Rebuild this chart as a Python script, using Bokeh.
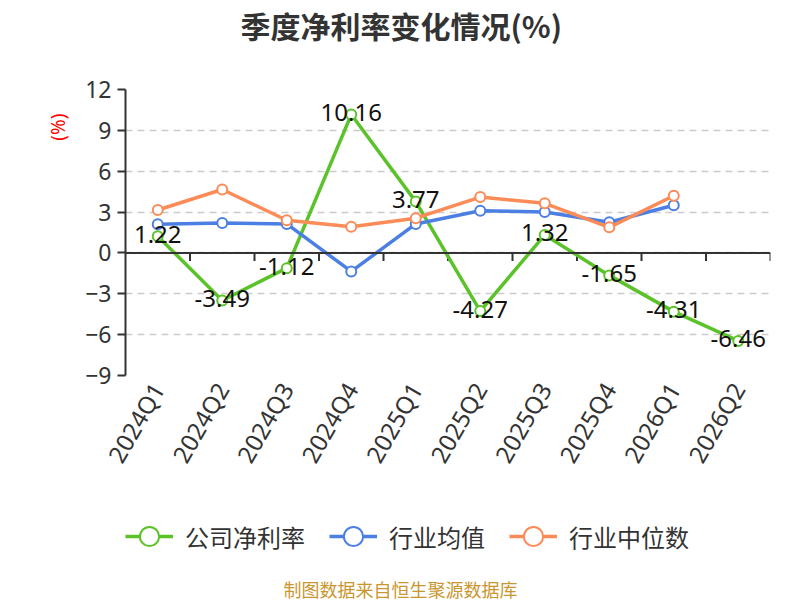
import math
from bokeh.plotting import figure
from bokeh.layouts import column
from bokeh.models import (FixedTicker, Span, Legend, LegendItem, ColumnDataSource, Title, Label)
from bokeh.core.properties import value
from bokeh.embed import file_html
from bokeh.resources import INLINE

# ---- data ----
categories = ["2024Q1", "2024Q2", "2024Q3", "2024Q4", "2025Q1",
              "2025Q2", "2025Q3", "2025Q4", "2026Q1", "2026Q2"]
company = [1.22, -3.49, -1.12, 10.16, 3.77, -4.27, 1.32, -1.65, -4.31, -6.46]
industry_avg = [2.10, 2.20, 2.13, -1.36, 2.13, 3.10, 3.00, 2.25, 3.50]
industry_median = [3.15, 4.66, 2.40, 1.93, 2.55, 4.10, 3.64, 1.88, 4.20]
y_ticks = [-9, -6, -3, 0, 3, 6, 9, 12]
series_names = ["公司净利率", "行业均值", "行业中位数"]
title_text = "季度净利率变化情况(%)"
unit_text = "(%)"
source_text = "制图数据来自恒生聚源数据库"

GREEN = "#5bc22a"
BLUE = "#4b7fe3"
ORANGE = "#fd8b57"
CJK = "Noto Sans CJK SC"
LATIN = "Noto Sans"

W = 800
H_MAIN, H_FOOT = 480, 120
ML, MR, MT, MB = 125, 30, 89, 105
frame_h = H_MAIN - MT - MB

xs = [i + 0.5 for i in range(len(categories))]
y_min, y_max = y_ticks[0], y_ticks[-1]

p = figure(width=W, height=H_MAIN, x_range=(0, len(categories)), y_range=(y_min, y_max),
           output_backend="svg", toolbar_location=None, title=None,
           min_border_left=ML, min_border_right=MR, min_border_top=MT, min_border_bottom=MB)
p.outline_line_color = None
p.background_fill_color = "white"

# grid
p.xgrid.visible = False
p.ygrid.ticker = FixedTicker(ticks=y_ticks)
p.ygrid.grid_line_color = "#cccccc"
p.ygrid.grid_line_width = 1.5
p.ygrid.grid_line_dash = "7 5"

# y axis
p.yaxis.ticker = FixedTicker(ticks=y_ticks)
p.yaxis.axis_line_color = "#333333"
p.yaxis.axis_line_width = 2
p.yaxis.major_tick_out = 8
p.yaxis.major_tick_in = 0
p.yaxis.major_tick_line_color = "#333333"
p.yaxis.major_tick_line_width = 2
p.yaxis.minor_tick_line_color = None
p.yaxis.major_label_text_font = LATIN
p.yaxis.major_label_text_font_size = "23px"
p.yaxis.major_label_text_color = "#333333"
p.yaxis.major_label_standoff = 6
p.yaxis.axis_label = " "
p.yaxis.axis_label_text_font_size = "4px"
p.yaxis.axis_label_standoff = 4

# x axis (labels only)
p.xaxis.ticker = FixedTicker(ticks=xs)
p.xaxis.major_label_overrides = {x: c for x, c in zip(xs, categories)}
p.xaxis.axis_line_color = None
p.xaxis.major_tick_line_color = None
p.xaxis.minor_tick_line_color = None
p.xaxis.major_tick_out = 0
p.xaxis.major_tick_in = 0
p.xaxis.major_label_orientation = math.pi / 3
p.xaxis.major_label_standoff = 9
p.xaxis.major_label_text_font = LATIN
p.xaxis.major_label_text_font_size = "24px"
p.xaxis.major_label_text_color = "#333333"

# zero line with category boundary ticks
p.add_layout(Span(location=0, dimension="width", line_color="#333333", line_width=2))
px_per_unit = frame_h / (y_max - y_min)
tick_len = 8 / px_per_unit
bounds = list(range(1, len(categories) + 1))
p.segment(x0=bounds, y0=[0] * len(bounds), x1=bounds, y1=[-tick_len] * len(bounds),
          line_color="#333333", line_width=2)


def add_series(fig, xv, vals, color):
    src = ColumnDataSource(dict(x=xv, y=vals))
    ln = fig.line("x", "y", source=src, line_color=color, line_width=3.5)
    sc = fig.scatter("x", "y", source=src, marker="circle", size=10, fill_color="white",
                     line_color=color, line_width=2)
    return [ln, sc]


all_series = [company, industry_avg, industry_median]
colors = [GREEN, BLUE, ORANGE]
for vals, color in zip(all_series, colors):
    add_series(p, xs[:len(vals)], vals, color)

# data labels for company series
lab_src = ColumnDataSource(dict(x=xs, y=company, t=[f"{v:.2f}" for v in company]))
p.text("x", "y", text="t", source=lab_src, text_align="center", text_baseline="middle",
       text_font=value(LATIN), text_font_size="24px", text_color="#111111", y_offset=-2)

# ---- top: spacer + main title ----
p.add_layout(Title(text=" ", text_font_size="37px", standoff=0), "above")
p.add_layout(Title(text=title_text, align="left", offset=115, standoff=0,
                   text_font=CJK, text_font_size="30px", text_font_style="bold",
                   text_color="#333333"), "above")

# ---- left: unit label ----
p.add_layout(Title(text=unit_text, align="right", offset=24, standoff=0,
                   text_font=LATIN, text_font_size="19px", text_font_style="normal",
                   text_color="#ff0000"), "left")

# ---- footer figure: legend + source note (its frame is aligned with the main one) ----
f = figure(width=W, height=H_FOOT, x_range=(0, len(categories)), y_range=(1000, 1001),
           output_backend="svg", toolbar_location=None, title=None,
           x_axis_type=None, y_axis_type=None,
           min_border_left=0, min_border_right=0, min_border_top=0, min_border_bottom=0)
f.outline_line_color = None
f.xgrid.visible = False
f.ygrid.visible = False

items = []
for name, vals, color in zip(series_names, all_series, colors):
    # same series, out of this frame's y range: only its legend glyph is seen
    rs = add_series(f, xs[:len(vals)], vals, color)
    items.append(LegendItem(label=name, renderers=rs))

legend = Legend(items=items, orientation="horizontal", location=(0, 39),
                glyph_width=48, glyph_height=50, label_standoff=12, spacing=24,
                padding=0, margin=0, border_line_color=None, background_fill_alpha=0,
                label_text_font=CJK, label_text_font_size="24px", label_text_color="#333333")
f.add_layout(legend, "center")

f.add_layout(Label(x=275, y=12, x_units="screen", y_units="screen", text=source_text,
                   text_align="center", text_baseline="middle", text_font=CJK,
                   text_font_size="18px", text_color="#c9962f"))

layout = column(p, f, spacing=0)
open("out.html", "w").write(file_html(layout, INLINE))
